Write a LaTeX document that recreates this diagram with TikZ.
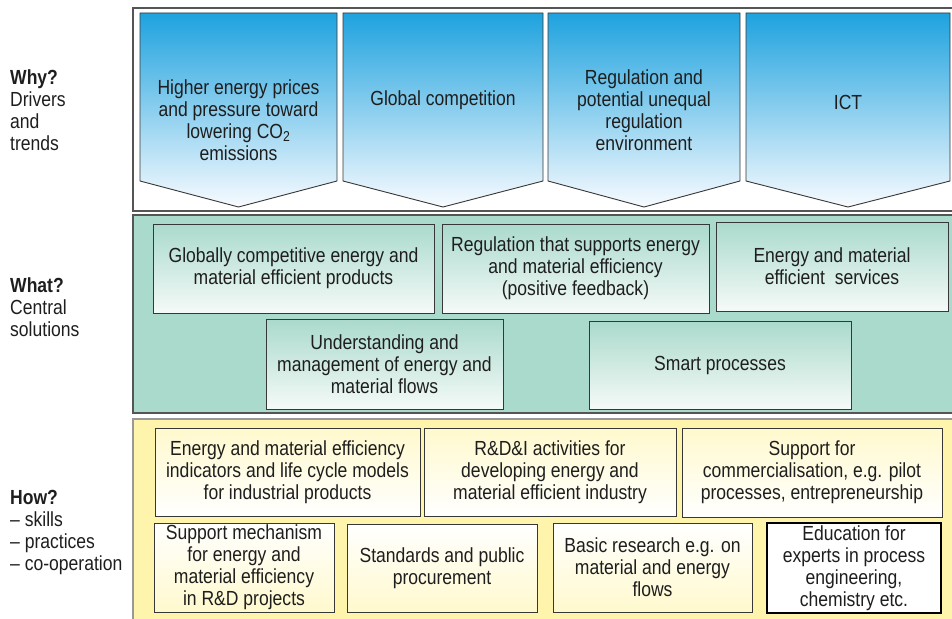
\documentclass[tikz,border=0pt]{standalone}
\usepackage{fontspec}
\setmainfont{Liberation Sans}[FakeStretch=0.86]
\usepackage{tikz}
\definecolor{edge_gray}{RGB}{85,85,85}
\definecolor{dark_gray}{RGB}{55,55,55}
\definecolor{text_gray}{RGB}{30,30,30}
\definecolor{chev_blue}{RGB}{30,162,222}
\definecolor{chev_low}{RGB}{248,251,255}
\definecolor{node_teal}{RGB}{170,218,204}
\definecolor{low_teal}{RGB}{245,250,248}
\definecolor{node_yell}{RGB}{255,244,172}
\definecolor{pale_yell}{RGB}{255,249,205}

\begin{document}
\begin{tikzpicture}[x=1pt,y=-1pt,font=\fontsize{20.4}{22}\selectfont]
    \tikzstyle{panel}=[draw=edge_gray, line width=1.2pt]
    \tikzstyle{chev}=[draw=dark_gray, line width=0.9pt, top color=chev_blue, bottom color=chev_low]
    \tikzstyle{txt}=[align=center, text=text_gray, inner sep=0pt]
    \tikzstyle{side}=[align=left, text=text_gray, inner sep=0pt, anchor=west]
    \tikzstyle{box}=[txt, draw=dark_gray, line width=0.9pt, outer sep=0pt]
    \tikzstyle{sol}=[box, top color=node_teal, bottom color=low_teal]
    \tikzstyle{howup}=[box, top color=pale_yell, bottom color=white]
    \tikzstyle{howdn}=[box, top color=white, bottom color=pale_yell]
    \tikzstyle{edu}=[box, fill=white, draw=black, line width=1.8pt]

    \path[use as bounding box] (0,0) rectangle (952,618);
    \clip (0,0) rectangle (952,618);

    % left column
    \node[side] (why)  at (10,110)   {\textbf{Why?}\\Drivers\\and\\trends};
    \node[side] (what) at (10,307)   {\textbf{What?}\\Central\\solutions};
    \node[side] (how)  at (10,532.5) {\textbf{How?}\\– skills\\– practices\\– co-operation};

    % panels
    \draw[panel, fill=white]     (133,8)   rectangle (960,211);
    \draw[panel, fill=node_teal] (133,215) rectangle (960,413);
    \draw[panel, draw=edge_gray!60, fill=node_yell] (133,419) rectangle (960,630);

    % drivers
    \foreach \l/\r in {140/337,343/543,548/740,746/950}
      \draw[chev] (\l,13) -- (\r,13) -- (\r,181) -- ({(\l+\r)/2},207) -- (\l,181) -- cycle;
    \node[txt] (price) at (238.5,120) {Higher energy prices\\and pressure toward\\lowering CO\textsubscript{2}\\emissions};
    \node[txt] (comp)  at (443,100)   {Global competition};
    \node[txt] (regu)  at (644,110)   {Regulation and\\potential unequal\\regulation\\environment};
    \node[txt] (ict)   at (848,102)   {ICT};

    % solutions
    \node[sol, minimum width=281pt, minimum height=89pt] (prod) at (293.5,268.5)
      {Globally competitive energy and\\material efficient products};
    \node[sol, minimum width=267pt, minimum height=89pt] (supp) at (575.5,268.5)
      {Regulation that supports energy\\and material efficiency\\(positive feedback)};
    \node[sol, minimum width=232pt, minimum height=89pt] (serv) at (832,266.5)
      {Energy and material\\efficient\ \ services};
    \node[sol, minimum width=237pt, minimum height=90pt] (flow) at (384.5,364)
      {Understanding and\\management of energy and\\material flows};
    \node[sol, minimum width=262pt, minimum height=88pt] (smart) at (720,365)
      {Smart processes};

    % skills, practices, co-operation
    \node[howup, minimum width=265pt, minimum height=88pt] (indi) at (287.5,472)
      {Energy and material efficiency\\indicators and life cycle models\\for industrial products};
    \node[howup, minimum width=252pt, minimum height=88pt] (rdi)  at (550,472)
      {R\&D\&I activities for\\developing energy and\\material efficient industry};
    \node[howup, minimum width=260pt, minimum height=89pt] (comm) at (812,472.5)
      {Support for\\commercialisation, e.g. pilot\\processes, entrepreneurship};
    \node[howdn, minimum width=180pt, minimum height=89pt] (mech) at (244,567.5)
      {Support mechanism\\for energy and\\material efficiency\\in R\&D projects};
    \node[howdn, minimum width=190pt, minimum height=88pt] (stan) at (442,568)
      {Standards and public\\procurement};
    \node[howdn, minimum width=199pt, minimum height=89pt] (basic) at (652.5,567.5)
      {Basic research e.g. on\\material and energy\\flows};
    \node[edu, minimum width=174pt, minimum height=90pt] (educ) at (854,568)
      {Education for\\experts in process\\engineering,\\chemistry etc.};
\end{tikzpicture}
\end{document}
